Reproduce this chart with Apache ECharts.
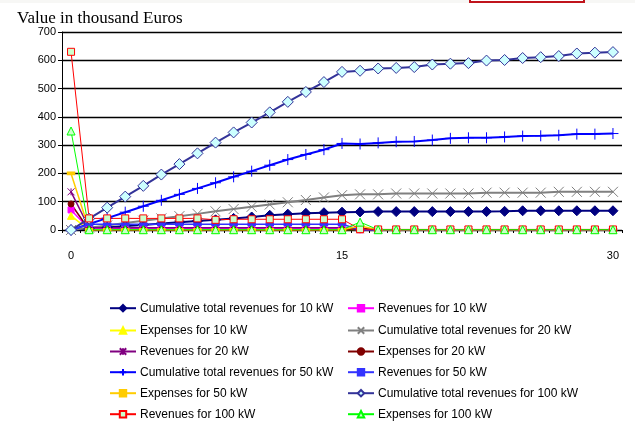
<!DOCTYPE html>
<html>
<head>
<meta charset="utf-8">
<script src="https://cdn.jsdelivr.net/npm/echarts@6/dist/echarts.min.js"></script>
<style>
	html,body{margin:0;padding:0;background:#fff;}
	#main{width:635px;height:425px;}
</style>
</head>
<body>
<div id="main"></div>
<script>
//年份
var years = ["0","1","2","3","4","5","6","7","8","9","10","11","12","13","14","15","16","17","18","19","20","21","22","23","24","25","26","27","28","29","30"];
//10 kW
var cum10 = [0,5,9,14,18,23,27,32,36,41,46,52,56,59,61,63,64,65,65,65,65,65,65,65,66,68,68,68,68,68,68];
var rev10 = [71,4.5,4.5,4.5,4.5,4.5,4.5,4.5,4.5,4.5,4.5,4.5,4.5,4.5,4.5,4.5,0.5,0.5,0.5,0.5,0.5,0.5,0.5,0.5,0.5,0.5,0.5,0.5,0.5,0.5,0.5];
var exp10 = [50,0.5,0.5,0.5,0.5,0.5,0.5,0.5,0.5,0.5,0.5,0.5,0.5,0.5,0.5,0.5,3,0.5,0.5,0.5,0.5,0.5,0.5,0.5,0.5,0.5,0.5,0.5,0.5,0.5,0.5];
//20 kW
var cum20 = [0,8,16,25,33,41,49,57,66,74,82,90,98,106,115,123,126,126,129,129,129,129,129,132,132,132,132,135,135,135,135];
var rev20 = [135,8,8,8,8,8,8,8,8,8,8,8,8,8,8,8,1,1,1,1,1,1,1,1,1,1,1,1,1,1,1];
var exp20 = [92,1,1,1,1,1,1,1,1,1,1,1,1,1,1,1,6,1,1,1,1,1,1,1,1,1,1,1,1,1,1];
//50 kW
var cum50 = [0,21,42,63,84,105,126,147,167,188,208,229,249,267,284,306,304,308,312,313,318,324,326,326,329,332,333,335,339,339,341];
var rev50 = [0,20,20,20,20,20,20,20,20,20,20,20,20,20,20,20,1,1,1,1,1,1,1,1,1,1,1,1,1,1,1];
var exp50 = [200,1,1,1,1,1,1,1,1,1,1,1,1,1,1,1,14,1,1,1,1,1,1,1,1,1,1,1,1,1,1];
//100 kW
var cum100 = [0,40,79,118,156,196,233,271,309,345,380,416,453,488,523,559,563,571,573,576,585,588,590,599,601,608,611,615,624,627,629];
var rev100 = [630,41,41,41,41,41,41,41,36,38,38,38,38,38,38,38,3,2,2,2,2,2,2,2,2,2,2,2,2,2,2];
var exp100 = [350,1,1,1,1,1,1,1,1,1,1,1,1,1,1,1,28,1,1,1,1,1,1,1,1,1,1,1,1,1,1];

var yTicks = [0,700,100]; //min,max,interval

//标记形状
var sym_x = "path://M0,0L10,10M10,0L0,10";
var sym_plus = "path://M5,0L5,10M0,5L10,5";
var sym_star = "path://M0,0L10,10M10,0L0,10M5,0L5,10";
var sym_dash = "path://M0,0L10,0L10,3L0,3Z";

function line(name, data, color, width, symbol, size, fill, border) {
	return {
		name: name,
		type: "line",
		data: data,
		symbol: symbol,
		symbolSize: size,
		showAllSymbol: true,
		animation: false,
		lineStyle: {color: color, width: width},
		itemStyle: {color: fill || color, borderColor: border || color, borderWidth: 1},
		emphasis: {disabled: true}
	};
}

var series = [
	line("Cumulative total revenues for 10 kW", cum10, "#000080", 2, "diamond", 10),
	line("Revenues for 10 kW", rev10, "#ff00ff", 1.5, "rect", 6),
	line("Expenses for 10 kW", exp10, "#ffff00", 1.5, "triangle", 7),
	line("Cumulative total revenues for 20 kW", cum20, "#808080", 2, sym_x, 10, "none", "#808080"),
	line("Revenues for 20 kW", rev20, "#800080", 1.5, sym_star, 7, "none", "#800080"),
	line("Expenses for 20 kW", exp20, "#800000", 1.5, "circle", 6),
	line("Cumulative total revenues for 50 kW", cum50, "#0000ff", 2, sym_plus, 11, "none", "#0000ff"),
	line("Revenues for 50 kW", rev50, "#3333ff", 1.5, sym_dash, [7,3]),
	line("Expenses for 50 kW", exp50, "#ffcc00", 1.5, sym_dash, [7,3]),
	line("Cumulative total revenues for 100 kW", cum100, "#333399", 2, "diamond", 11, "#ccffff", "#333399"),
	line("Revenues for 100 kW", rev100, "#ff0000", 1, "rect", 7, "#ccffcc", "#ff0000"),
	line("Expenses for 100 kW", exp100, "#00ff00", 1, "triangle", 8, "#ccffcc", "#00ff00")
];

//图例: 两列, 每项一个legend
var rowY = [307.7, 330, 351, 371.7, 392.7, 413.7];
var legends = [];
series.forEach(function(s, i){
	legends.push({
		orient: "vertical",
		left: (i % 2 == 0) ? 109 : 347,
		top: rowY[Math.floor(i / 2)] - 5.5,
		padding: 0,
		itemWidth: 26,
		itemHeight: 8,
		itemGap: 0,
		selectedMode: false,
		data: [s.name],
		textStyle: {fontFamily: "Liberation Sans, Arial", fontSize: 12, color: "#000", padding: [0,0,0,-1]}
	});
});

var myChart = echarts.init(document.getElementById("main"), null, {renderer: "canvas"});
myChart.setOption({
	backgroundColor: "#fff",
	animation: false,
	title: {
		text: "Value in thousand Euros",
		left: 12,
		top: 5,
		textStyle: {fontFamily: "Liberation Serif, Times New Roman", fontSize: 17, fontWeight: "normal", color: "#000"}
	},
	graphic: [
		{type: "rect", shape: {x: 0, y: 0, width: 635, height: 3}, style: {fill: "#f7f7f5"}},
		{type: "rect", shape: {x: 470, y: -3, width: 114, height: 5}, style: {fill: "#fff", stroke: "#c0141c", lineWidth: 2}}
	],
	legend: legends,
	grid: {left: 62, right: 13, top: 32, bottom: 195, containLabel: false},
	xAxis: {
		type: "category",
		data: years,
		boundaryGap: true,
		axisLine: {lineStyle: {color: "#000", width: 1}},
		axisTick: {show: true, length: 3, interval: 0, lineStyle: {color: "#000"}},
		axisLabel: {
			interval: function(i){ return i % 15 == 0; },
			margin: 20,
			fontFamily: "Liberation Sans, Arial",
			fontSize: 11,
			color: "#000"
		},
		splitLine: {show: false}
	},
	yAxis: {
		type: "value",
		min: yTicks[0],
		max: yTicks[1],
		interval: yTicks[2],
		axisLine: {show: true, lineStyle: {color: "#000", width: 1}},
		axisTick: {show: true, length: 4, lineStyle: {color: "#000"}},
		axisLabel: {margin: 6, fontFamily: "Liberation Sans, Arial", fontSize: 11, color: "#000"},
		splitLine: {lineStyle: {color: "#000", width: 1.3}}
	},
	series: series
});
</script>
</body>
</html>
